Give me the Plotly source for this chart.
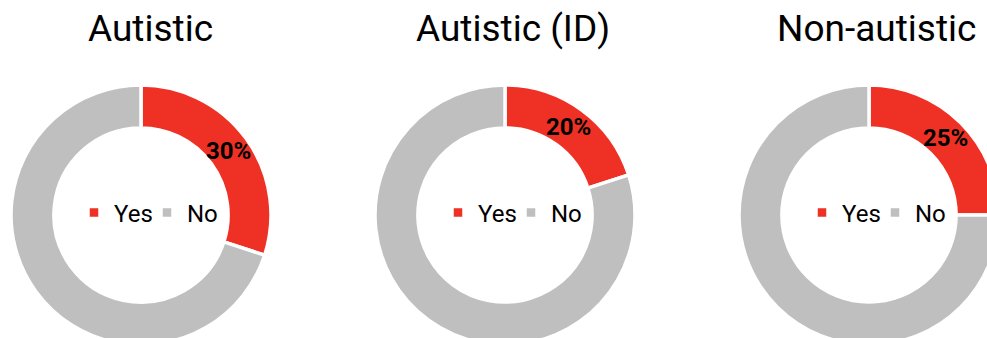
import plotly.graph_objects as go

# ---- data ----
groups = ["Autistic", "Autistic (ID)", "Non-autistic"]
answer_labels = ["Yes", "No"]
yes_pct = [30, 20, 25]
no_pct = [70, 80, 75]

# ---- style / layout ----
W, H = 1100, 400
colors = ["#EE3124", "#BFBFBF"]
centers_x = [141, 505, 869]
center_y = 215
radius = 130
hole = 0.67
label_radius = 138     # transparent label ring (same centre), so labels sit mid-ring at full size
label_hole = 0.57
title_x = [150, 513, 876]
title_y = 28
legend_x = [147, 511, 875]
legend_y = 213
font_family = "Roboto, Arial, sans-serif"


def fx(px):
    return px / W


def fy(py):
    return 1 - py / H


def domain(cx, r):
    return dict(x=[fx(cx - r), fx(cx + r)], y=[fy(center_y + r), fy(center_y - r)])


fig = go.Figure()
legend_names = ["legend", "legend2", "legend3"]
for i, g in enumerate(groups):
    cx = centers_x[i]
    vals = [yes_pct[i], no_pct[i]]
    fig.add_trace(go.Pie(
        labels=answer_labels,
        values=vals,
        name=g,
        sort=False,
        direction="clockwise",
        rotation=0,
        hole=hole,
        marker=dict(colors=colors, line=dict(color="white", width=3.5)),
        textinfo="none",
        domain=domain(cx, radius),
        legend=legend_names[i],
        legendgroup="grp%d" % i,
        hoverinfo="label+percent",
    ))
    # percentage labels (transparent ring carrying the text)
    fig.add_trace(go.Pie(
        labels=answer_labels,
        values=vals,
        name=g,
        sort=False,
        direction="clockwise",
        rotation=0,
        hole=label_hole,
        marker=dict(colors=["rgba(0,0,0,0)", "rgba(0,0,0,0)"], line=dict(width=0)),
        texttemplate=["%{percent}", ""],
        textposition="inside",
        insidetextorientation="horizontal",
        insidetextfont=dict(family=font_family, size=24, color="black", weight="bold"),
        domain=domain(cx, label_radius),
        showlegend=False,
        hoverinfo="skip",
    ))

annotations = []
for i, g in enumerate(groups):
    annotations.append(dict(
        text=g, x=fx(title_x[i]), y=fy(title_y), xref="paper", yref="paper",
        xanchor="center", yanchor="middle", showarrow=False,
        font=dict(family=font_family, size=37, color="black"),
    ))

legend_common = dict(
    orientation="h", xanchor="center", yanchor="middle", traceorder="normal",
    entrywidth=28, entrywidthmode="pixels",
    font=dict(family=font_family, size=24, color="black"),
    bgcolor="rgba(0,0,0,0)", itemclick=False, itemdoubleclick=False,
)
layout_legends = {}
for i, ln in enumerate(legend_names):
    layout_legends[ln] = dict(legend_common, x=fx(legend_x[i]), y=fy(legend_y))

fig.update_layout(
    width=W, height=H,
    margin=dict(l=0, r=0, t=0, b=0),
    paper_bgcolor="white",
    plot_bgcolor="white",
    showlegend=True,
    annotations=annotations,
    font=dict(family=font_family),
    **layout_legends,
)

fig.write_html(
    "out.html",
    post_script="document.body.style.margin='0';document.body.style.overflow='hidden';",
)
